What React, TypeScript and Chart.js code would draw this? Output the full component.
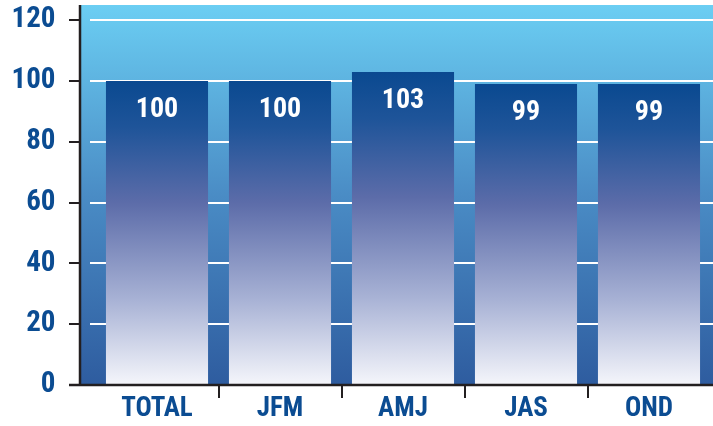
import React, { useEffect, useRef } from "react";
import { Chart, registerables } from "chart.js";

Chart.register(...registerables);

const categories = ["TOTAL", "JFM", "AMJ", "JAS", "OND"];
const values = [100, 100, 103, 99, 99];
const yTicks = [0, 20, 40, 60, 80, 100, 120];

const FONT = '"Roboto Condensed", "Open Sans Condensed", "DejaVu Sans Condensed", sans-serif';
const BLUE = "#0B4C92";
const AXIS = "#231F20";

const decor = {
  id: "decor",
  beforeDatasetsDraw(chart: any) {
    const { ctx, chartArea } = chart;
    const y = chart.scales.y;
    const axisX = chartArea.left - 15.5;
    const right = chart.width;
    const bottom = y.getPixelForValue(0);
    const top = chartArea.top;
    ctx.save();
    const g = ctx.createLinearGradient(0, top, 0, bottom);
    g.addColorStop(0, "#6BCEF3");
    g.addColorStop(0.5, "#4A8CC5");
    g.addColorStop(1, "#2E5C9F");
    ctx.fillStyle = g;
    ctx.fillRect(axisX, top, right - axisX, bottom - top);
    ctx.strokeStyle = "#FFFFFF";
    ctx.lineWidth = 2;
    yTicks.forEach((v) => {
      if (v === 0) return;
      const py = Math.round(y.getPixelForValue(v));
      ctx.beginPath();
      ctx.moveTo(axisX + 10, py);
      ctx.lineTo(right, py);
      ctx.stroke();
    });
    ctx.restore();
  },
  afterDatasetsDraw(chart: any) {
    const { ctx, chartArea } = chart;
    const y = chart.scales.y;
    const x = chart.scales.x;
    const axisX = chartArea.left - 15.5;
    const bottom = y.getPixelForValue(0);
    ctx.save();
    ctx.fillStyle = "#FFFFFF";
    ctx.font = `bold 28px ${FONT}`;
    ctx.textAlign = "center";
    ctx.textBaseline = "middle";
    values.forEach((v, i) => {
      const px = x.getPixelForValue(i);
      const py = y.getPixelForValue(v);
      ctx.fillText(String(v), px, py + 29);
    });
    ctx.strokeStyle = AXIS;
    ctx.lineWidth = 2.5;
    ctx.beginPath();
    ctx.moveTo(axisX, chartArea.top);
    ctx.lineTo(axisX, bottom + 1);
    ctx.stroke();
    ctx.beginPath();
    ctx.moveTo(axisX - 11, bottom);
    ctx.lineTo(chart.width, bottom);
    ctx.stroke();
    ctx.lineWidth = 2;
    yTicks.forEach((v) => {
      const py = Math.round(y.getPixelForValue(v));
      ctx.beginPath();
      ctx.moveTo(axisX - 11, py);
      ctx.lineTo(axisX, py);
      ctx.stroke();
    });
    ctx.restore();
  },
};

export default function App() {
  const ref = useRef<HTMLCanvasElement>(null);
  useEffect(() => {
    if (!ref.current) return;
    const chart = new Chart(ref.current, {
      type: "bar",
      data: {
        labels: categories,
        datasets: [
          {
            data: values,
            barPercentage: 0.83,
            categoryPercentage: 1,
            backgroundColor: (c: any) => {
              const ch = c.chart;
              if (!ch.chartArea || c.raw === undefined) return "#3A6AAA";
              const ys = ch.scales.y;
              const t = ys.getPixelForValue(c.raw);
              const b = ys.getPixelForValue(0);
              const g = ch.ctx.createLinearGradient(0, t, 0, b);
              g.addColorStop(0, "#0A4990");
              g.addColorStop(0.15, "#1E5499");
              g.addColorStop(0.4, "#5C6CA9");
              g.addColorStop(0.72, "#A8B2D5");
              g.addColorStop(1, "#F5F6FB");
              return g;
            },
          },
        ],
      },
      options: {
        responsive: false,
        animation: false,
        layout: { padding: { top: 5, right: 2.5, left: 0, bottom: 0 } },
        plugins: { legend: { display: false }, tooltip: { enabled: false } },
        scales: {
          x: {
            border: { display: false },
            grid: {
              offset: true,
              drawOnChartArea: false,
              drawTicks: true,
              tickLength: 13,
              lineWidth: 2,
              color: (c: any) =>
                c.type !== "tick" || c.index === 0 || c.index === undefined ? "rgba(0,0,0,0)" : AXIS,
            },
            ticks: {
              color: BLUE,
              font: { family: FONT, size: 27, weight: "bold" },
              padding: -5,
            },
            afterFit: (s: any) => {
              s.height = 41;
            },
          },
          y: {
            min: 0,
            max: 125,
            border: { display: false },
            grid: {
              display: true,
              drawOnChartArea: false,
              drawTicks: true,
              tickLength: 40,
              color: "rgba(0,0,0,0)",
            },
            afterBuildTicks: (s: any) => {
              s.ticks = yTicks.map((v) => ({ value: v }));
            },
            ticks: {
              color: BLUE,
              font: { family: FONT, size: 29, weight: "bold" },
              padding: 0,
            },
            afterFit: (s: any) => {
              s.width = 95.5;
              s.paddingTop = 0;
              s.paddingBottom = 0;
            },
          },
        },
      },
      plugins: [decor],
    });
    return () => chart.destroy();
  }, []);
  return (
    <div style={{ position: "fixed", left: 0, top: 0, width: 713, height: 426, background: "#fff" }}>
      <canvas ref={ref} width={713} height={426} />
    </div>
  );
}
